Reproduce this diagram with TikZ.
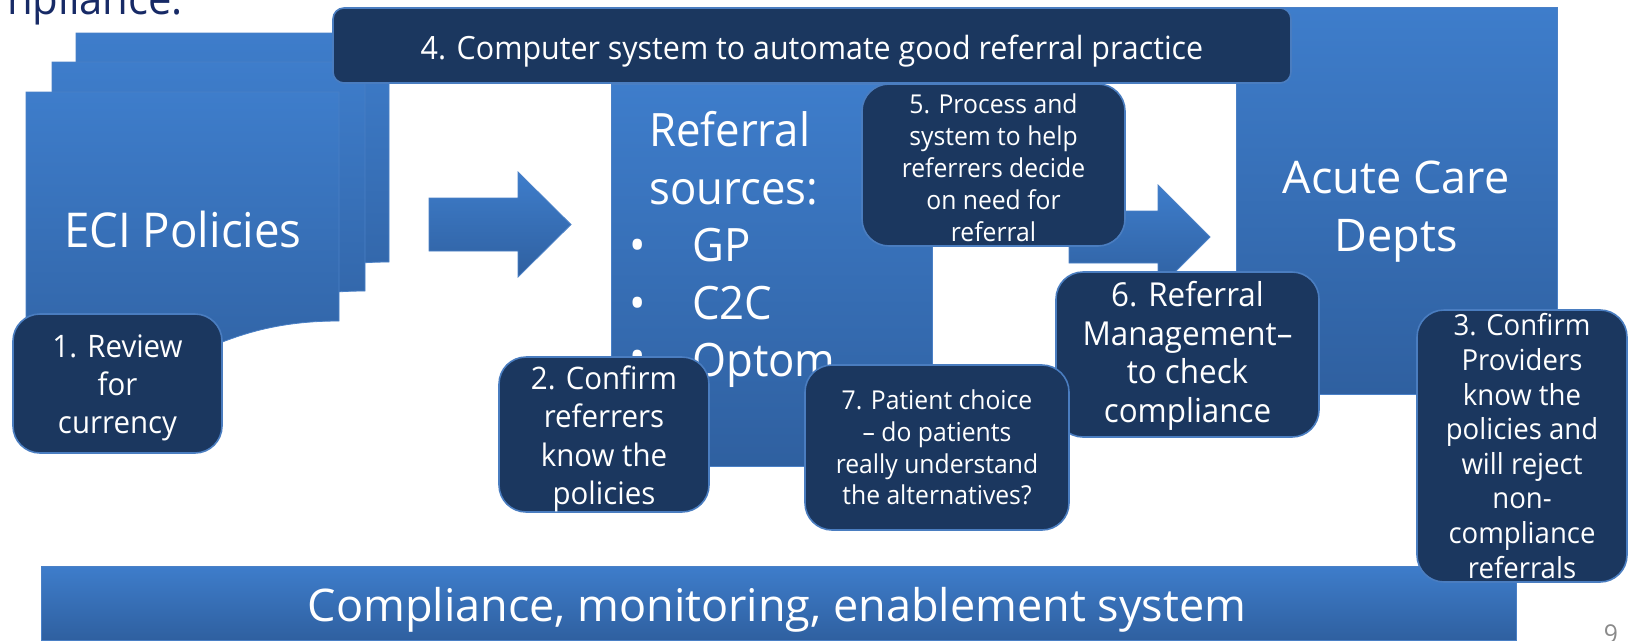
\documentclass[tikz,border=0pt]{standalone}
\usepackage{fontspec}
\setmainfont{Open Sans}[FakeStretch=0.95]
\newfontfamily\widefont{Open Sans}
\definecolor{navy}{HTML}{1B375F}
\definecolor{navyline}{HTML}{4A7DC0}
\definecolor{bluetop}{HTML}{3E7DCB}
\definecolor{bluebot}{HTML}{2F60A0}
\definecolor{blueline}{HTML}{4A80C6}
\definecolor{titlecol}{HTML}{172A66}
\definecolor{pagenum}{HTML}{8A8A8A}
\newcommand\tstrut[1]{\rule{0pt}{#1}}
\begin{document}
\begin{tikzpicture}[x=1pt,y=-1pt,
  darkbox/.style={draw=navyline, line width=1.6pt, fill=navy, rounded corners=27pt, text=white, align=center, inner sep=0pt},
  bluebox/.style={draw=blueline, line width=0.8pt, top color=bluetop, bottom color=bluebot, inner sep=0pt},
  bigtext/.style={text=white, inner sep=0pt},
]
\useasboundingbox (0,0) rectangle (1628,640);
\clip (0,0) rectangle (1628,640);

% multi-document shape (ECI Policies)
\foreach \px/\py in {76/33, 52/62, 26/92}
  \path[bluebox] (\px,\py) -- ({\px+313},\py) -- ({\px+313},{\py+229})
    .. controls ({\px+156.5},{\py+229}) and ({\px+156.5},{\py+316}) .. (\px,{\py+266.7}) -- cycle;
\node[bigtext, font=\fontsize{48}{56}\selectfont, anchor=base] (eci) at (183,247) {ECI Policies};

% left block arrow
\path[bluebox] (429,198) -- (518,198) -- (518,172) -- (571,224.5) -- (518,277) -- (518,251) -- (429,251) -- cycle;

% referral sources box
\node[bluebox, minimum width=321pt, minimum height=382pt] (refbox) at (771.5,275) {};
\node[bigtext, font=\fontsize{46}{56}\selectfont, anchor=base west] (ref1) at (649,146) {Referral};
\node[bigtext, font=\fontsize{46}{56}\selectfont, anchor=base west] (ref2) at (649,204) {sources:};
\node[bigtext, font=\fontsize{46}{56}\selectfont, anchor=base] (bul1) at (638,261) {•};
\node[bigtext, font=\fontsize{46}{56}\selectfont, anchor=base] (bul2) at (638,319) {•};
\node[bigtext, font=\fontsize{46}{56}\selectfont, anchor=base] (bul3) at (638,372) {•};
\node[bigtext, font=\fontsize{46}{56}\selectfont, anchor=base west] (gp) at (692,261) {GP};
\node[bigtext, font=\fontsize{46}{56}\selectfont, anchor=base west] (c2c) at (692,319) {C2C};
\node[bigtext, font=\fontsize{46}{56}\selectfont, anchor=base west] (optom) at (692,376) {Optom};

% right block arrow
\path[bluebox] (1069,211) -- (1158,211) -- (1158,185) -- (1210,237) -- (1158,289) -- (1158,263) -- (1069,263) -- cycle;

% acute care box
\node[bluebox, minimum width=321pt, minimum height=387pt] (acute) at (1396.5,200.5) {};
\node[bigtext, font=\widefont\fontsize{45}{54}\selectfont, anchor=base] (ac1) at (1396,193) {Acute Care};
\node[bigtext, font=\widefont\fontsize{45}{54}\selectfont, anchor=base] (ac2) at (1396,251) {Depts};

% bottom bar
\node[bluebox, minimum width=1475pt, minimum height=74pt] (bar) at (778.5,603) {};
\node[bigtext, font=\widefont\fontsize{45}{54}\selectfont, anchor=base] (bartext) at (777,621) {Compliance, monitoring, enablement system};

% dark boxes
\node[darkbox, rounded corners=11pt, minimum width=958pt, minimum height=75pt, font=\fontsize{32}{38}\selectfont] (b4) at (812,45.5) {\tstrut{36pt}4. Computer system to automate good referral practice};
\node[darkbox, minimum width=263pt, minimum height=162pt, font=\fontsize{26}{32}\selectfont] (b5) at (993.5,165) {\tstrut{26pt}5. Process and\\system to help\\referrers decide\\on need for\\referral};
\node[darkbox, minimum width=263pt, minimum height=165pt, font=\fontsize{33}{38.5}\selectfont] (b6) at (1187.5,354.5) {\tstrut{28pt}6. Referral\\Management–\\to check\\compliance};
\node[darkbox, minimum width=264pt, minimum height=165pt, font=\fontsize{26}{31.7}\selectfont] (b7) at (937,447.5) {7. Patient choice\\– do patients\\really understand\\the alternatives?};
\node[darkbox, minimum width=210pt, minimum height=143pt, font=\fontsize{31}{38.5}\selectfont] (b2) at (604,434.5) {\tstrut{32pt}2. Confirm\\referrers\\know the\\policies};
\node[darkbox, minimum width=209pt, minimum height=139pt, font=\fontsize{31}{38}\selectfont] (b1) at (117.5,383.5) {\tstrut{31pt}1. Review\\for\\currency};
\node[darkbox, minimum width=210pt, minimum height=272pt, font=\fontsize{29}{34.6}\selectfont] (b3) at (1522,446) {3. Confirm\\Providers\\know the\\policies and\\will reject\\non-\\compliance\\referrals};

% page number and clipped title
\node[text=pagenum, inner sep=0pt, font=\fontsize{26}{30}\selectfont, anchor=base] (pg) at (1611,643) {9};
\node[text=titlecol, inner sep=0pt, font=\fontsize{44}{52}\selectfont, anchor=base west] (ttl) at (7,14) {npliance.};
\end{tikzpicture}
\end{document}
